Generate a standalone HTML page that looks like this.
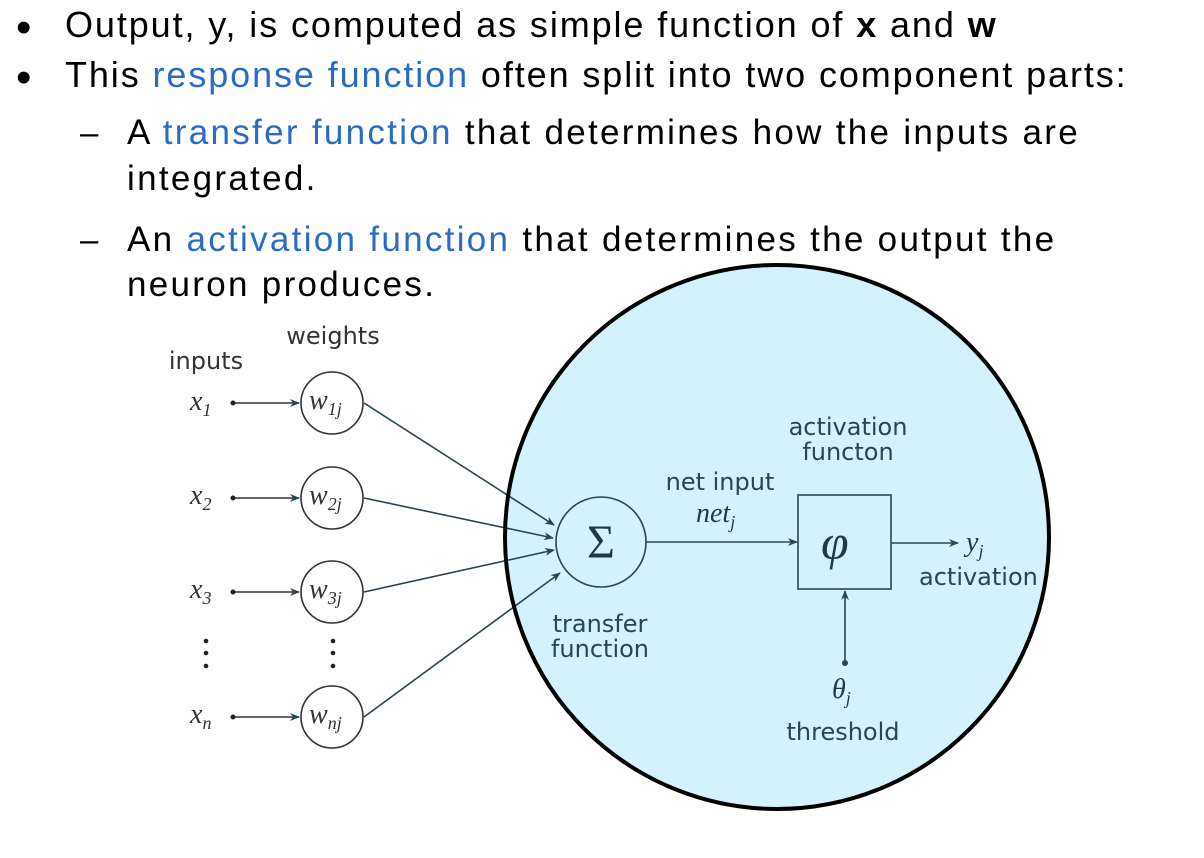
<!DOCTYPE html>
<html><head><meta charset="utf-8"><style>
html,body{margin:0;padding:0;background:#fff;}
body{width:1204px;height:858px;position:relative;overflow:hidden;font-family:"Liberation Sans",Arial,sans-serif;}
.t{position:absolute;white-space:nowrap;color:#000;}
.m{font-size:36px;letter-spacing:1.9px;}
.s{font-size:35px;letter-spacing:2.3px;}
.b{color:#2a6bc8;}
</style></head><body>
<svg width="1204" height="858" style="position:absolute;left:0;top:0">
<defs>
<marker id="a" markerWidth="10" markerHeight="8" refX="9" refY="4" orient="auto" markerUnits="userSpaceOnUse"><path d="M0,0 L10,4 L0,8 L3,4 Z" fill="#2c4450"/></marker>
</defs>
<circle cx="777" cy="537" r="272" fill="#d3f2fb"/>
<g stroke="#333" stroke-width="1.6" fill="none">
<line x1="233" y1="403" x2="299" y2="403" marker-end="url(#a)"/>
<line x1="233" y1="498" x2="299" y2="498" marker-end="url(#a)"/>
<line x1="233" y1="592" x2="299" y2="592" marker-end="url(#a)"/>
<line x1="233" y1="717" x2="299" y2="717" marker-end="url(#a)"/>
<circle cx="332" cy="403" r="31" fill="#fff"/>
<circle cx="332" cy="498" r="31" fill="#fff"/>
<circle cx="332" cy="592" r="31" fill="#fff"/>
<circle cx="332" cy="717" r="31" fill="#fff"/>
<line x1="364" y1="403" x2="554" y2="525" stroke="#2c4450" marker-end="url(#a)"/>
<line x1="364" y1="498" x2="553" y2="538" stroke="#2c4450" marker-end="url(#a)"/>
<line x1="364" y1="592" x2="554" y2="550" stroke="#2c4450" marker-end="url(#a)"/>
<line x1="364" y1="717" x2="560" y2="573" stroke="#2c4450" marker-end="url(#a)"/>
</g>
<g fill="#222"><circle cx="233" cy="403" r="2.5"/><circle cx="233" cy="498" r="2.5"/><circle cx="233" cy="592" r="2.5"/><circle cx="233" cy="717" r="2.5"/>
<circle cx="206" cy="641" r="2.3"/><circle cx="206" cy="653" r="2.3"/><circle cx="206" cy="666" r="2.3"/>
<circle cx="333" cy="641" r="2.3"/><circle cx="333" cy="653" r="2.3"/><circle cx="333" cy="666" r="2.3"/>
<circle cx="845" cy="663" r="3" fill="#2c4450"/></g>
<g stroke="#2c4450" stroke-width="1.6" fill="none">
<circle cx="601" cy="542" r="45"/>
<rect x="798" y="495" width="93" height="94"/>
<line x1="646" y1="542" x2="797" y2="542" marker-end="url(#a)"/>
<line x1="891" y1="543" x2="958" y2="543" marker-end="url(#a)"/>
<line x1="845" y1="663" x2="845" y2="591" marker-end="url(#a)"/>
</g>
<g font-family="'DejaVu Sans',sans-serif" font-size="24" fill="#2c4450" text-anchor="middle">
<text x="333" y="344" fill="#333">weights</text>
<text x="206" y="369" fill="#333">inputs</text>
<text x="848" y="435">activation</text>
<text x="848" y="460">functon</text>
<text x="720" y="490">net input</text>
<text x="600" y="632">transfer</text>
<text x="600" y="657">function</text>
<text x="843" y="740">threshold</text>
<text x="919" y="585" text-anchor="start">activation</text>
</g>
<g font-family="'Liberation Serif',serif" font-style="italic" fill="#333" font-size="28">
<text x="190" y="410">x<tspan font-size="18" dy="6">1</tspan></text>
<text x="190" y="504">x<tspan font-size="18" dy="6">2</tspan></text>
<text x="190" y="598">x<tspan font-size="18" dy="6">3</tspan></text>
<text x="190" y="723">x<tspan font-size="18" dy="6">n</tspan></text>
<text x="309" y="409">w<tspan font-size="18" dy="6">1j</tspan></text>
<text x="309" y="504">w<tspan font-size="18" dy="6">2j</tspan></text>
<text x="309" y="598">w<tspan font-size="18" dy="6">3j</tspan></text>
<text x="309" y="723">w<tspan font-size="18" dy="6">nj</tspan></text>
<text x="696" y="522" fill="#1f3a45">net<tspan font-size="18" dy="6">j</tspan></text>
<text x="966" y="551" fill="#1f3a45">y<tspan font-size="18" dy="6">j</tspan></text>
<text x="832" y="698" fill="#1f3a45">θ<tspan font-size="18" dy="6">j</tspan></text>
<text x="821" y="559" font-size="50" fill="#1f3a45">φ</text>
</g>
<text x="601" y="558" font-family="'Liberation Serif',serif" font-size="48" fill="#1f3a45" text-anchor="middle">Σ</text>
<circle cx="777" cy="537" r="272" fill="none" stroke="#000" stroke-width="4"/>
</svg>
<div class="t" style="left:16px;top:3px;font-size:44px;">•</div>
<div class="t m" style="left:65px;top:4px;">Output, y, is computed as simple function of <b>x</b> and <b>w</b></div>
<div class="t" style="left:16px;top:53px;font-size:44px;">•</div>
<div class="t m" style="left:65px;top:54px;">This <span class="b">response function</span> often split into two component parts:</div>
<div class="t" style="left:80px;top:114px;font-size:33px;">–</div>
<div class="t s" style="left:127px;top:113px;">A <span class="b">transfer function</span> that determines how the inputs are</div>
<div class="t s" style="left:127px;top:159px;">integrated.</div>
<div class="t" style="left:80px;top:221px;font-size:33px;">–</div>
<div class="t s" style="left:127px;top:220px;">An <span class="b">activation function</span> that determines the output the</div>
<div class="t s" style="left:127px;top:265px;">neuron produces.</div>
</body></html>
